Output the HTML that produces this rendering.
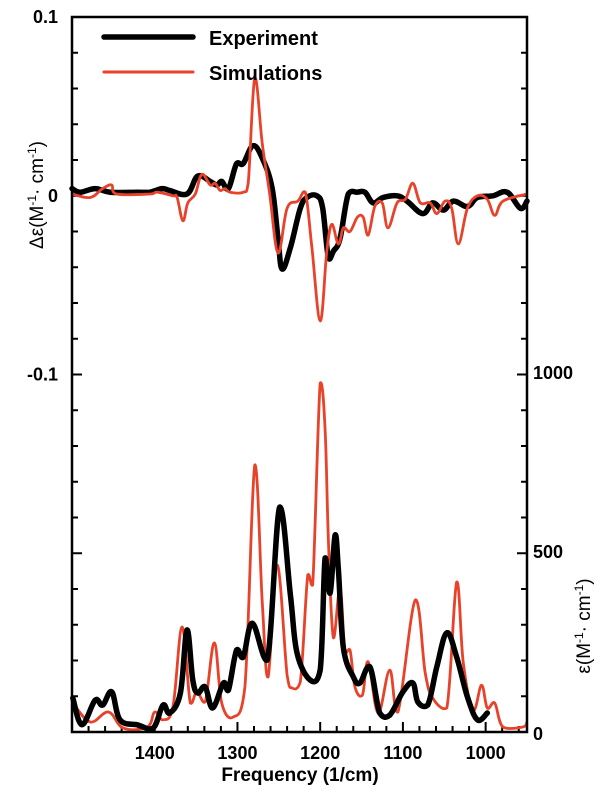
<!DOCTYPE html>
<html><head><meta charset="utf-8"><style>
body{margin:0;background:#fff;}
svg{display:block;font-family:"Liberation Sans",Arial,sans-serif;}
</style></head><body>
<svg id="chart" width="600" height="792" viewBox="0 0 600 792">
<g id="ticks"></g>
<g id="series"></g>
<rect x="72" y="17" width="455" height="715" fill="none" stroke="#000" stroke-width="2.5"/>
<g id="labels" font-weight="bold" font-size="18"></g>
<g>
<line x1="104" y1="37" x2="193" y2="37" stroke="#000" stroke-width="5.5" stroke-linecap="round"/>
<text x="209" y="45" font-size="20" font-weight="bold">Experiment</text>
<line x1="104" y1="72" x2="193" y2="72" stroke="#e8432a" stroke-width="3" stroke-linecap="round"/>
<text x="209" y="80" font-size="20" font-weight="bold">Simulations</text>
</g>
<text x="300" y="781" text-anchor="middle" font-size="19" font-weight="bold">Frequency (1/cm)</text>
<text transform="translate(43,195) rotate(-90)" text-anchor="middle" font-size="19">Δε(M<tspan font-size="12" dy="-7">-1</tspan><tspan dy="7">· cm</tspan><tspan font-size="12" dy="-7">-1</tspan><tspan dy="7">)</tspan></text>
<text transform="translate(590,626) rotate(-90)" text-anchor="middle" font-size="19">ε(M<tspan font-size="12" dy="-7">-1</tspan><tspan dy="7">· cm</tspan><tspan font-size="12" dy="-7">-1</tspan><tspan dy="7">)</tspan></text>
</svg>
<script>
const expCdFreq=[1500,1490,1472,1454,1421,1406,1391,1382,1361,1348,1333,1325,1319,1311,1301,1293,1281,1269,1258,1251,1246,1236,1224,1216,1204,1197,1190,1184,1176,1166,1155,1146,1136,1124,1107,1095,1076,1064,1051,1039,1022,1010,991,974,958,950];
const expCdVal=[0.004,0.002,0.004,0.002,0.002,0.002,0.004,0.003,0.001,0.011,0.008,0.006,0.008,0.004,0.018,0.018,0.028,0.020,0.004,-0.024,-0.041,-0.029,-0.007,-0.001,0.000,-0.007,-0.035,-0.031,-0.024,0.001,0.002,0.002,-0.004,-0.001,0.000,-0.003,-0.010,-0.004,-0.008,-0.003,-0.006,-0.001,0.000,0.002,-0.007,-0.003];
const simCdFreq=[1500,1478,1463,1452,1446,1406,1397,1378,1373,1366,1360,1351,1343,1333,1327,1321,1315,1309,1293,1287,1279,1270,1261,1251,1240,1227,1218,1210,1200,1192,1186,1178,1172,1164,1155,1148,1142,1134,1125,1118,1107,1097,1088,1079,1067,1059,1049,1041,1033,1022,1010,998,989,979,950];
const simCdVal=[0.001,-0.001,0.004,0.006,0.001,0.001,0.002,0.000,-0.001,-0.014,-0.004,0.001,0.012,0.006,0.007,0.003,0.004,0.002,0.002,0.007,0.066,0.029,0.001,-0.032,-0.007,-0.003,0.002,-0.029,-0.070,-0.031,-0.016,-0.027,-0.018,-0.020,-0.012,-0.012,-0.022,-0.006,-0.004,-0.018,-0.004,-0.002,0.007,-0.004,-0.004,-0.010,-0.003,-0.007,-0.027,-0.007,0.000,-0.002,-0.011,-0.003,0.001];
const expIrFreq=[1499,1488,1472,1463,1452,1442,1421,1402,1390,1382,1369,1361,1354,1348,1339,1330,1317,1311,1301,1293,1282,1264,1249,1236,1228,1212,1200,1194,1188,1182,1178,1172,1160,1152,1140,1128,1116,1100,1088,1082,1070,1059,1047,1035,1022,1010,998];
const expIrVal=[95,20,89,75,112,34,20,11,75,53,109,285,145,109,126,67,137,117,229,209,304,201,628,383,221,145,173,486,388,550,453,237,154,137,182,53,47,112,137,84,75,182,277,209,98,34,53];
const simIrFreq=[1499,1478,1456,1438,1409,1400,1390,1378,1367,1357,1349,1339,1328,1319,1305,1291,1279,1270,1263,1252,1240,1234,1224,1215,1209,1200,1194,1190,1184,1176,1170,1164,1158,1149,1142,1130,1116,1106,1085,1073,1064,1047,1035,1027,1015,1005,998,989,979,955,950];
const simIrVal=[81,28,56,11,14,56,34,70,293,81,112,84,249,81,42,126,746,360,154,466,159,123,140,439,411,975,844,528,263,402,223,229,126,103,196,53,173,56,369,165,95,67,419,193,61,131,67,81,14,14,28];
const xTicks=[1400,1300,1200,1100,1000];
const leftTicks=[0.1,0,-0.1];
const leftTickLabels=["0.1","0","-0.1"];
const rightTicks=[1000,500,0];
const rightTickLabels=["1000","500","0"];

const NS="http://www.w3.org/2000/svg";
const L=72,R=527,T=17,B=732;
function xs(f){return L+(1500-f)*(R-L)/550;}
function ycd(v){return T+(0.1-v)*(B-T)/0.4;}
function yir(v){return B-v*(B-374)/1000;}
function mk(tag,attrs,parent){const e=document.createElementNS(NS,tag);for(const k in attrs)e.setAttribute(k,attrs[k]);parent.appendChild(e);return e;}
const ticksG=document.getElementById('ticks'),seriesG=document.getElementById('series'),labG=document.getElementById('labels');
for(let f=1500;f>=950;f-=20){const x=xs(f);const major=f%100===0;
 const t=mk('line',{x1:x,x2:x,y1:B,y2:B-(major?10:6),stroke:'#000','stroke-width':2},ticksG);
 
 }
for(let i=0;i<=20;i++){const y=T+i*(B-T)/20;const major=i%5===0;
 const a=mk('line',{x1:L,x2:L+(major?10:6),y1:y,y2:y,stroke:'#000','stroke-width':2},ticksG);
 
 
 const b=mk('line',{x1:R,x2:R-(major?10:6),y1:y,y2:y,stroke:'#000','stroke-width':2},ticksG);
 
 }
xTicks.forEach(f=>{const t=mk('text',{x:xs(f),y:B+27,'text-anchor':'middle'},labG);t.textContent=String(f);
 
 });
leftTicks.forEach((v,i)=>{const t=mk('text',{x:58,y:ycd(v)+6,'text-anchor':'end'},labG);t.textContent=leftTickLabels[i];
 
 });
rightTicks.forEach((v,i)=>{const t=mk('text',{x:533,y:yir(v)+(v===0?8:5),'text-anchor':'start'},labG);t.textContent=rightTickLabels[i];
 
 });
function path(fr,vals,yf){
 const p=fr.map((f,i)=>[xs(f),yf(vals[i])]);
 let d='M'+p[0][0].toFixed(1)+','+p[0][1].toFixed(1);
 for(let i=0;i<p.length-1;i++){
  const p0=p[Math.max(0,i-1)],p1=p[i],p2=p[i+1],p3=p[Math.min(p.length-1,i+2)];
  const t=0.18;
  let c1y=p1[1]+(p2[1]-p0[1])*t, c2y=p2[1]-(p3[1]-p1[1])*t;
  const lo=Math.min(p1[1],p2[1]),hi=Math.max(p1[1],p2[1]);
  c1y=Math.max(lo-3,Math.min(hi+3,c1y));c2y=Math.max(lo-3,Math.min(hi+3,c2y));
  const c1x=p1[0]+(p2[0]-p0[0])*t, c2x=p2[0]-(p3[0]-p1[0])*t;
  d+='C'+c1x.toFixed(1)+','+c1y.toFixed(1)+' '+c2x.toFixed(1)+','+c2y.toFixed(1)+' '+p2[0].toFixed(1)+','+p2[1].toFixed(1);
 }
 return d;}
const s1=mk('path',{d:path(simIrFreq,simIrVal,yir),fill:'none',stroke:'#e8432a','stroke-width':2.8,'stroke-linejoin':'round'},seriesG);


const e1=mk('path',{d:path(expIrFreq,expIrVal,yir),fill:'none',stroke:'#000','stroke-width':5.5,'stroke-linejoin':'round','stroke-linecap':'round'},seriesG);


const e2=mk('path',{d:path(expCdFreq,expCdVal,ycd),fill:'none',stroke:'#000','stroke-width':5.5,'stroke-linejoin':'round','stroke-linecap':'round'},seriesG);


const s2=mk('path',{d:path(simCdFreq,simCdVal,ycd),fill:'none',stroke:'#e8432a','stroke-width':2.8,'stroke-linejoin':'round'},seriesG);


</script>
</body></html>
